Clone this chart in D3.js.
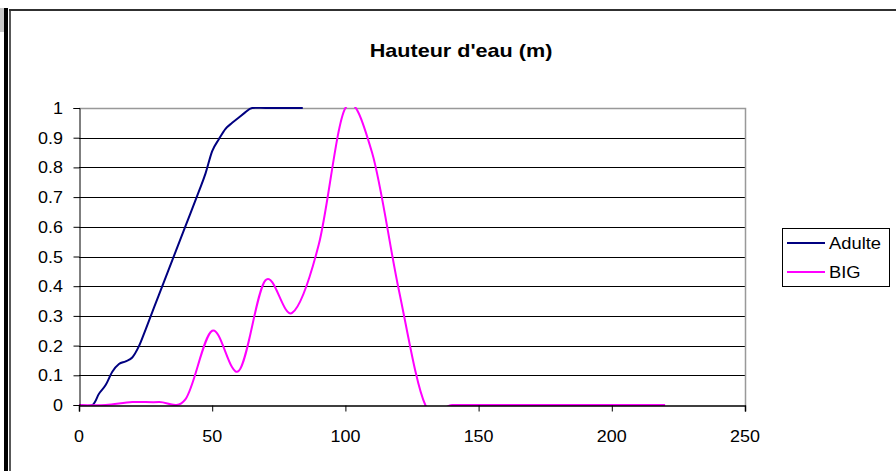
<!DOCTYPE html>
<html>
<head>
<meta charset="utf-8">
<script src="https://cdn.jsdelivr.net/npm/d3@7/dist/d3.min.js"></script>
<style>
  html, body { margin: 0; padding: 0; background: #fff; }
  svg { display: block; }
  text { font-family: "Liberation Sans", Arial, sans-serif; fill: #000; }
</style>
</head>
<body>
<script>
// Water height series (x in position units, y in metres)
const adulteX = [0, 5, 7.5, 10, 12.5, 15, 17.5, 20, 22.5, 25, 30, 35, 40, 45, 47.5, 50, 52.5, 55, 57.5, 60, 62.5, 65, 70, 75, 80, 84];
const adulteY = [0, 0, 0.038, 0.067, 0.112, 0.138, 0.147, 0.16, 0.198, 0.254, 0.371, 0.487, 0.603, 0.719, 0.78, 0.855, 0.895, 0.93, 0.95, 0.968, 0.986, 1, 1, 1, 1, 1];

const bigX = [0, 10, 20, 30, 40, 50, 60, 70, 80, 90, 100, 110, 120, 130, 140, 150, 160, 170, 180, 190, 200, 210, 220];
const bigY = [0, 0, 0.01, 0.01, 0.02, 0.25, 0.115, 0.42, 0.31, 0.54, 1, 0.85, 0.39, 0, 0, 0, 0, 0, 0, 0, 0, 0, 0];

const seriesNames = ["Adulte", "BIG"];
const seriesColors = ["#000080", "#FF00FF"];

const xTicks = [0, 50, 100, 150, 200, 250];
const yTicks = [0, 0.1, 0.2, 0.3, 0.4, 0.5, 0.6, 0.7, 0.8, 0.9, 1];

const chartTitle = "Hauteur d'eau (m)";

const W = 896, H = 471;
const plot = { left: 79, right: 745, top: 108, bottom: 405 };
const stretch = 1.12; // text is drawn slightly widened

const svg = d3.select("body").append("svg")
  .attr("width", W).attr("height", H);

// outer frame decorations
svg.append("rect").attr("x", 0).attr("y", 8).attr("width", 6).attr("height", 24).attr("fill", "#c8c8c8");
svg.append("rect").attr("x", 4).attr("y", 8).attr("width", 4).attr("height", H - 8).attr("fill", "#000");
svg.append("line").attr("x1", 10).attr("x2", 10).attr("y1", 10).attr("y2", H)
  .attr("stroke", "#202020").attr("stroke-width", 1.5);
svg.append("line").attr("x1", 9).attr("x2", W).attr("y1", 10).attr("y2", 10)
  .attr("stroke", "#303030").attr("stroke-width", 2);

const x = d3.scaleLinear().domain([0, 250]).range([plot.left, plot.right]);
const y = d3.scaleLinear().domain([0, 1]).range([plot.bottom, plot.top]);

// horizontal gridlines
svg.append("g").selectAll("line")
  .data(yTicks.filter(v => v > 0 && v < 1))
  .join("line")
  .attr("x1", plot.left).attr("x2", plot.right)
  .attr("y1", d => Math.round(y(d)) + 0.5).attr("y2", d => Math.round(y(d)) + 0.5)
  .attr("stroke", "#000").attr("stroke-width", 1);

// plot-area border (top and right)
svg.append("path")
  .attr("d", `M${plot.left},${plot.top + 0.5}H${plot.right + 0.5}V${plot.bottom}`)
  .attr("fill", "none").attr("stroke", "#999").attr("stroke-width", 1.5);

// clip series to plot area
svg.append("clipPath").attr("id", "plotclip")
  .append("rect")
  .attr("x", plot.left).attr("y", plot.top - 1)
  .attr("width", plot.right - plot.left).attr("height", plot.bottom - plot.top + 2);

const line = d3.line().x(d => x(d[0])).y(d => y(d[1])).curve(d3.curveCatmullRom.alpha(0));
const series = [
  adulteX.map((v, i) => [v, adulteY[i]]),
  bigX.map((v, i) => [v, bigY[i]])
];

svg.append("g").attr("clip-path", "url(#plotclip)")
  .selectAll("path").data(series).join("path")
  .attr("d", line)
  .attr("fill", "none")
  .attr("stroke", (d, i) => seriesColors[i])
  .attr("stroke-width", 2);

// axes (lines and ticks from d3, labels drawn widened)
const yAxis = d3.axisLeft(y).tickValues(yTicks).tickSize(6).tickFormat("");
const gy = svg.append("g").attr("transform", `translate(${plot.left + 0.5},0)`).call(yAxis);
gy.select(".domain").attr("stroke", "#000");
gy.selectAll(".tick line").attr("stroke", "#000");
svg.append("g").selectAll("text").data(yTicks).join("text")
  .attr("transform", d => `translate(63,${y(d) + 6}) scale(${stretch},1)`)
  .attr("text-anchor", "end")
  .attr("font-size", 16)
  .text(d3.format("~g"));

const xAxis = d3.axisBottom(x).tickValues(xTicks).tickSize(6).tickFormat("");
const gx = svg.append("g").attr("transform", `translate(0,${plot.bottom + 0.5})`).call(xAxis);
gx.select(".domain").attr("stroke", "#000").attr("stroke-width", 1.5);
gx.selectAll(".tick line").attr("stroke", "#000");
svg.append("g").selectAll("text").data(xTicks).join("text")
  .attr("transform", d => `translate(${x(d)},442) scale(${stretch},1)`)
  .attr("text-anchor", "middle")
  .attr("font-size", 16)
  .text(d3.format("d"));

// title
svg.append("text")
  .attr("transform", `translate(461,57) scale(1.2,1)`)
  .attr("text-anchor", "middle")
  .attr("font-size", 18).attr("font-weight", "bold")
  .text(chartTitle);

// legend
const lg = svg.append("g").attr("transform", "translate(782,228)");
lg.append("rect").attr("x", 0.5).attr("y", 0.5).attr("width", 107).attr("height", 58)
  .attr("fill", "#fff").attr("stroke", "#000");
seriesNames.forEach((name, i) => {
  const yy = 15 + i * 29;
  lg.append("line").attr("x1", 5).attr("x2", 43).attr("y1", yy).attr("y2", yy)
    .attr("stroke", seriesColors[i]).attr("stroke-width", 2);
  lg.append("text")
    .attr("transform", `translate(47,${yy + 6}) scale(1.08,1)`)
    .attr("font-size", 17).text(name);
});
</script>
</body>
</html>
